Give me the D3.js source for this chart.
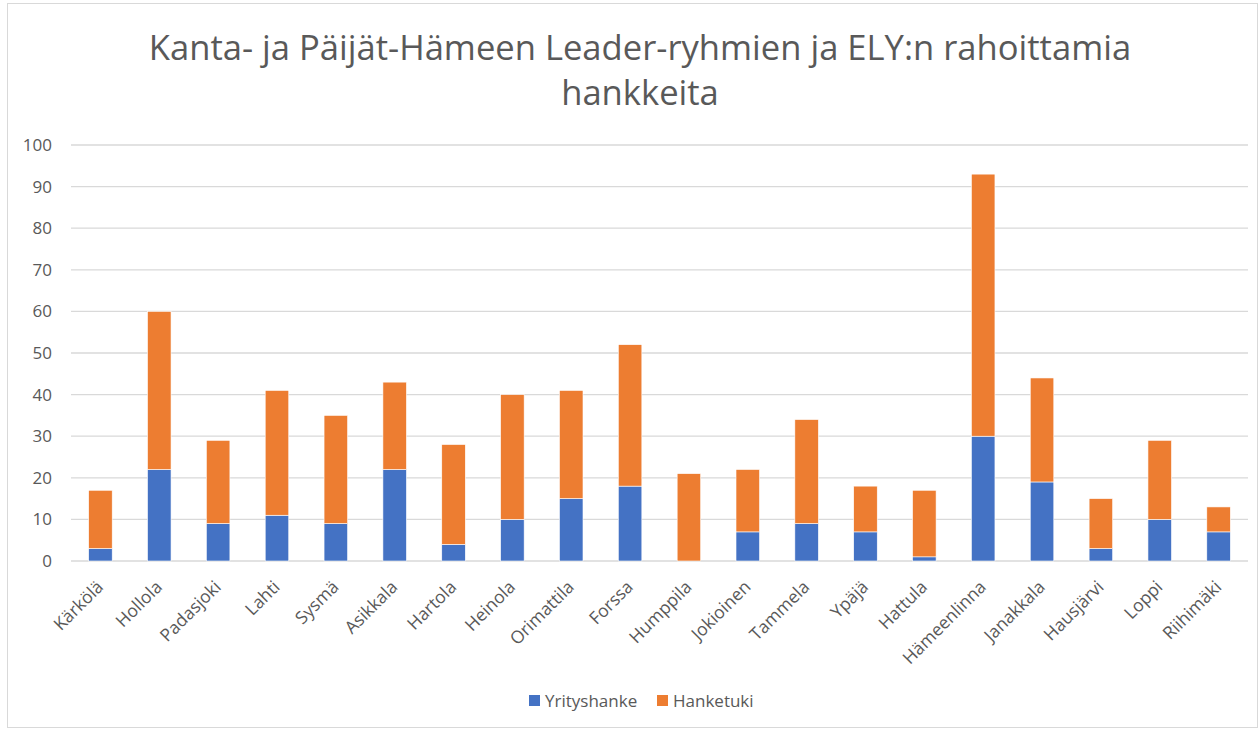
<!DOCTYPE html>
<html>
<head>
<meta charset="utf-8">
<script src="https://cdn.jsdelivr.net/npm/d3@7"></script>
<style>
  body { margin: 0; background: #fff; }
  text { font-family: "Open Sans", "Noto Sans", sans-serif; fill: #595959; }
</style>
</head>
<body>
<div id="chart"></div>
<script>
const categories = ['Kärkölä', 'Hollola', 'Padasjoki', 'Lahti', 'Sysmä', 'Asikkala', 'Hartola',
    'Heinola', 'Orimattila', 'Forssa', 'Humppila', 'Jokioinen', 'Tammela', 'Ypäjä', 'Hattula',
    'Hämeenlinna', 'Janakkala', 'Hausjärvi', 'Loppi', 'Riihimäki'];
const yrityshanke = [3, 22, 9, 11, 9, 22, 4, 10, 15, 18, 0, 7, 9, 7, 1, 30, 19, 3, 10, 7];
const hanketuki = [14, 38, 20, 30, 26, 21, 24, 30, 26, 34, 21, 15, 25, 11, 16, 63, 25, 12, 19, 6];
const seriesNames = ['Yrityshanke', 'Hanketuki'];
const seriesColors = ['#4472C4', '#ED7D31'];
const yTicks = [0, 10, 20, 30, 40, 50, 60, 70, 80, 90, 100];
const titleLines = ['Kanta- ja Päijät-Hämeen Leader-ryhmien ja ELY:n rahoittamia', 'hankkeita'];

const width = 1259, height = 730;
const margin = { top: 145, right: 11, bottom: 169, left: 71 };

const svg = d3.select('#chart').append('svg')
    .attr('width', width)
    .attr('height', height);

// chart frame
svg.append('rect')
    .attr('x', 7.5).attr('y', 3.5)
    .attr('width', width - 9).attr('height', height - 6)
    .attr('fill', 'none')
    .attr('stroke', '#d9d9d9');

// title
svg.append('g').selectAll('text')
    .data(titleLines)
    .enter().append('text')
    .attr('x', 640)
    .attr('y', (d, i) => 60 + i * 45)
    .attr('text-anchor', 'middle')
    .style('font-size', '34.6px')
    .text(d => d);

const x = d3.scaleBand()
    .domain(categories)
    .range([margin.left, width - margin.right])
    .paddingInner(0.6)
    .paddingOuter(0.3);

const y = d3.scaleLinear()
    .domain([0, 100])
    .range([height - margin.bottom, margin.top]);

// gridlines
svg.append('g').selectAll('line')
    .data(yTicks)
    .enter().append('line')
    .attr('x1', margin.left).attr('x2', width - margin.right)
    .attr('y1', d => y(d)).attr('y2', d => y(d))
    .attr('stroke', '#d9d9d9')
    .attr('stroke-width', 1.3);

// y axis labels
const yAxis = svg.append('g')
    .attr('transform', `translate(${margin.left - 19},0)`)
    .call(d3.axisLeft(y).tickValues(yTicks).tickSize(0).tickPadding(0));
yAxis.select('.domain').remove();
yAxis.selectAll('text')
    .style('font-size', '17px')
    .attr('fill', '#595959')
    .attr('font-family', null);

// stacked bars
const rows = categories.map((c, i) => ({ cat: c, Yrityshanke: yrityshanke[i], Hanketuki: hanketuki[i] }));
const stack = d3.stack().keys(seriesNames)(rows);

svg.append('g').selectAll('g')
    .data(stack)
    .enter().append('g')
    .attr('fill', (d, i) => seriesColors[i])
    .selectAll('rect')
    .data(d => d)
    .enter().append('rect')
    .attr('x', d => x(d.data.cat))
    .attr('width', x.bandwidth())
    .attr('y', d => y(d[1]))
    .attr('height', d => y(d[0]) - y(d[1]))
    .attr('stroke', '#fff')
    .attr('stroke-width', 0.6);

// x axis labels
const xAxis = svg.append('g')
    .attr('transform', `translate(0,${y(0)})`)
    .call(d3.axisBottom(x).tickSize(0).tickPadding(0));
xAxis.select('.domain').remove();
xAxis.selectAll('text')
    .style('font-size', '17.5px')
    .attr('fill', '#595959')
    .attr('font-family', null)
    .attr('text-anchor', 'end')
    .attr('dy', 0)
    .attr('transform', 'translate(4,27) rotate(-45)');

// legend
const legendX = [529, 657];
const legend = svg.append('g').selectAll('g')
    .data(seriesNames)
    .enter().append('g')
    .attr('transform', (d, i) => `translate(${legendX[i]},695)`);
legend.append('rect')
    .attr('width', 11).attr('height', 11)
    .attr('fill', (d, i) => seriesColors[i]);
legend.append('text')
    .attr('x', 16).attr('y', 11.5)
    .style('font-size', '17px')
    .text(d => d);
</script>
</body>
</html>
